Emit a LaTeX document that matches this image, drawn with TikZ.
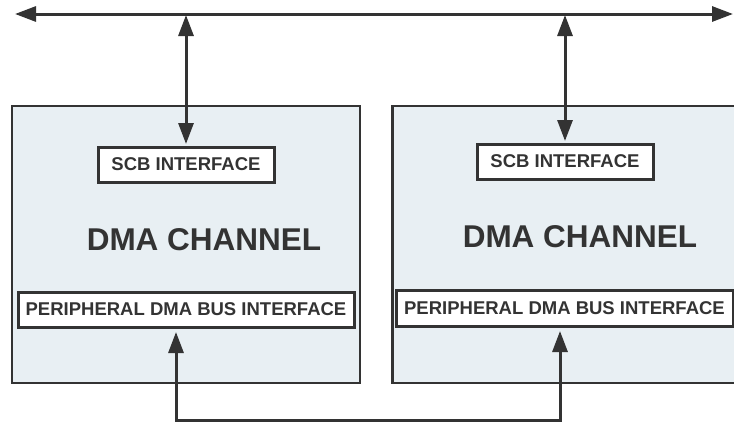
\documentclass[tikz,border=0pt]{standalone}
\usepackage{fontspec}
\setmainfont{Liberation Sans}
\usetikzlibrary{arrows.meta}
\definecolor{ink}{HTML}{333333}
\definecolor{chanfill}{HTML}{E8EFF3}
\begin{document}
\begin{tikzpicture}[x=1pt,y=-1pt,
  chan/.style={draw=ink,line width=2.6pt,fill=chanfill,inner sep=0pt},
  iface/.style={draw=ink,line width=3pt,fill=white,inner sep=0pt,
    font=\fontsize{18.5}{20}\selectfont\bfseries,text=ink},
  title/.style={font=\fontsize{31.5}{34}\selectfont\bfseries,text=ink},
  conn/.style={draw=ink,line width=3pt,{Triangle[length=21pt,width=15pt]}-{Triangle[length=21pt,width=15pt]}}]
\useasboundingbox (0,0) rectangle (734,423);
% channel boxes
\node[chan,minimum width=348pt,minimum height=277pt] (c1) at (186,244.5) {};
\node[chan,minimum width=354pt,minimum height=277pt,anchor=west] (c2) at (391,244.5) {};
% titles
\node[title] (t1) at (204,240) {DMA CHANNEL};
\node[title] (t2) at (580,237) {DMA CHANNEL};
% interfaces
\node[iface,minimum width=176pt,minimum height=35pt] (s1) at (186,164.5) {SCB INTERFACE};
\node[iface,minimum width=176pt,minimum height=35pt] (s2) at (565,161.5) {SCB INTERFACE};
\node[iface,minimum width=336pt,minimum height=35pt] (p1) at (186,309.5) {PERIPHERAL DMA BUS INTERFACE};
\node[iface,minimum width=337pt,minimum height=36pt] (p2) at (564.5,308) {PERIPHERAL DMA BUS INTERFACE};
% bus
\coordinate (bl) at (15,14);
\coordinate (br) at (733,14);
\draw[conn] (bl) -- (br);
\coordinate (b1) at (186,15);
\coordinate (b2) at (565,15);
\draw[conn] (b1) -- ([yshift=1.5pt]s1.north);
\draw[conn] (b2) -- ([yshift=1.5pt]s2.north);
% bottom link
\coordinate (q1) at (176,332);
\coordinate (q2) at (560,331);
\coordinate (d1) at (176,420);
\coordinate (d2) at (560,420);
\draw[conn] (q1) -- (d1) -- (d2) -- (q2);
\end{tikzpicture}
\end{document}
